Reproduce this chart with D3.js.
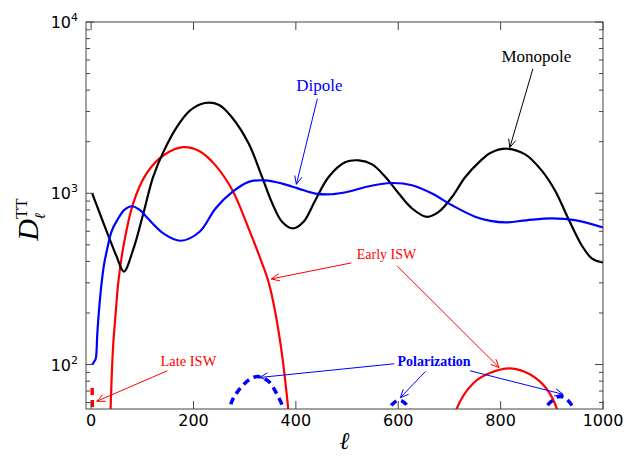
<!DOCTYPE html>
<html>
<head>
<meta charset="utf-8">
<script src="https://cdn.jsdelivr.net/npm/d3@7"></script>
<style>
  body { margin: 0; background: #fff; }
</style>
</head>
<body>
<div id="chart"></div>
<script>
// multipole l, D_l^TT
const monopole = [[2,1000],[17,762],[37,533],[50,426],[64,349],[82,467],[102,762],[121,1244],[141,1739],[167,2427],
  [193,3039],[222,3367],[250,3280],[275,2780],[308,1945],[334,1244],[354,871],[373,681],[394,623],[415,681],
  [438,911],[464,1244],[497,1520],[523,1556],[549,1474],[575,1244],[601,996],[627,815],[656,728],[679,778],
  [705,951],[731,1244],[760,1540],[780,1720],[812,1820],[848,1686],[880,1360],[906,1041],[932,713],[958,499],
  [978,417],[1000,394]];
const dipole = [[2,100],[6,104],[9,108],[12,150],[15,200],[20,290],[25,380],[31,467],[40,600],[51,697],[65,800],
  [79,840],[95,800],[108,728],[141,583],[175,528],[212,596],[243,815],[276,1018],[308,1165],[340,1190],
  [373,1139],[405,1065],[438,996],[470,987],[506,1027],[536,1088],[588,1148],[627,1113],[666,996],[705,851],
  [750,730],[780,690],[809,676],[850,695],[900,713],[945,697],[1000,631]];
const earlyISW = [[36,40],[38,55],[40,82],[43,128],[48,200],[53,300],[63,487],[82,871],[108,1302],[141,1662],
  [180,1859],[212,1760],[243,1455],[276,1041],[308,620],[334,390],[347,300],[360,200],[372,120],[381,72],
  [385,55],[388,40],[500,null],
  [705,40],[714,55],[747,78],[780,89.5],[818,95],[858,87.5],[890,72],[910,55],[918,40]];
const lateISW = [[2,73],[3,45]];
const polarization = [[268,50],[274,60],[287,70],[310,82],[326,85],[346,80],[362,68],[375,56],[378,50],[450,null],
  [575,50],[583,56],[592,60],[602,62],[612,60],[620,56],[626,50],[700,null],
  [882,50],[890,57],[902,62],[915,65],[925,64],[937,59],[946,53],[950,50]];

const xTicks = [0, 200, 400, 600, 800, 1000];
const yTicks = [100, 1000, 10000];
const yTickExp = ["2", "3", "4"];

// annotation labels: text position, then arrows [from, to], all in data units
const annotations = [
  {label: "Monopole", at: [870, 6300], arrows: [[[863, 5330], [818, 1850]]]},
  {label: "Dipole", at: [446, 4300], arrows: [[[442, 3566], [401, 1128]]]},
  {label: "Early ISW", at: [577, 442], arrows: [[[508, 392], [352, 316]], [[598, 376], [797, 96]]]},
  {label: "Late ISW", at: [190, 105], arrows: [[[149, 92], [11, 61]]]},
  {label: "Polarization", at: [670, 105], arrows: [[[592, 101], [329, 84]], [[653, 91], [604, 64]], [[740, 92], [922, 67]]]}
];

const annoStyle = {
  "Monopole": {color: "black", size: 17, weight: "normal"},
  "Dipole": {color: "blue", size: 17, weight: "normal"},
  "Early ISW": {color: "red", size: 14, weight: "normal"},
  "Late ISW": {color: "red", size: 14.5, weight: "normal"},
  "Polarization": {color: "blue", size: 14, weight: "bold"}
};

const W = 627, H = 457;
const margin = {top: 22, right: 24, bottom: 48, left: 86};

const svg = d3.select("#chart").append("svg")
  .attr("width", W)
  .attr("height", H);

const x = d3.scaleLinear().domain([-10, 1000]).range([margin.left, W - margin.right]);
const y = d3.scaleLog().domain([55, 10000]).range([H - margin.bottom, margin.top]);

const x0 = margin.left, x1 = W - margin.right, y0 = H - margin.bottom, y1 = margin.top;

svg.append("clipPath").attr("id", "plot")
  .append("rect")
  .attr("x", x0).attr("y", y1)
  .attr("width", x1 - x0).attr("height", y0 - y1);

const line = d3.line()
  .defined(d => d[1] != null)
  .x(d => x(d[0]))
  .y(d => y(d[1]))
  .curve(d3.curveCatmullRom.alpha(0.5));

const curves = svg.append("g").attr("clip-path", "url(#plot)").attr("fill", "none");

curves.append("path").datum(earlyISW).attr("d", line)
  .attr("stroke", "red").attr("stroke-width", 2.2);
curves.append("path").datum(monopole).attr("d", line)
  .attr("stroke", "black").attr("stroke-width", 2.2);
curves.append("path").datum(dipole).attr("d", line)
  .attr("stroke", "blue").attr("stroke-width", 2.2);
curves.append("path").datum(lateISW).attr("d", line)
  .attr("stroke", "red").attr("stroke-width", 3.5).attr("stroke-dasharray", "7,5");
curves.append("path").datum(polarization).attr("d", line)
  .attr("stroke", "blue").attr("stroke-width", 3.5).attr("stroke-dasharray", "7,5");

// frame
svg.append("rect")
  .attr("x", x0).attr("y", y1)
  .attr("width", x1 - x0).attr("height", y0 - y1)
  .attr("fill", "none").attr("stroke", "#444").attr("stroke-width", 1);

const ticks = svg.append("g").attr("stroke", "#444").attr("stroke-width", 1);

// x ticks, inward on bottom and top
xTicks.forEach(t => {
  ticks.append("line").attr("x1", x(t)).attr("x2", x(t)).attr("y1", y0).attr("y2", y0 - 8);
  ticks.append("line").attr("x1", x(t)).attr("x2", x(t)).attr("y1", y1).attr("y2", y1 + 8);
});

// y ticks, majors and log minors, inward on left and right
y.ticks().forEach(t => {
  const len = yTicks.includes(t) ? 8 : 4;
  ticks.append("line").attr("x1", x0).attr("x2", x0 + len).attr("y1", y(t)).attr("y2", y(t));
  ticks.append("line").attr("x1", x1).attr("x2", x1 - len).attr("y1", y(t)).attr("y2", y(t));
});

const labels = svg.append("g")
  .attr("font-family", "'DejaVu Sans', sans-serif")
  .attr("fill", "black");

xTicks.forEach(t => {
  labels.append("text")
    .attr("x", x(t)).attr("y", y0 + 17)
    .attr("text-anchor", "middle")
    .attr("font-size", 16)
    .text(t);
});

yTicks.forEach((t, i) => {
  const txt = labels.append("text")
    .attr("x", x0 - 8).attr("y", y(t) + 6)
    .attr("text-anchor", "end")
    .attr("font-size", 16);
  txt.append("tspan").text("10");
  txt.append("tspan").attr("dy", -7).attr("font-size", 11).text(yTickExp[i]);
});

// axis titles
svg.append("text")
  .attr("x", (x0 + x1) / 2).attr("y", H - 8)
  .attr("text-anchor", "middle")
  .attr("font-family", "'DejaVu Serif', serif")
  .attr("font-style", "italic")
  .attr("font-size", 24)
  .text("ℓ");

const ylab = svg.append("text")
  .attr("transform", `translate(38,${(y0 + y1) / 2 + 4}) rotate(-90)`)
  .attr("text-anchor", "middle")
  .attr("font-family", "'Liberation Serif', serif");
ylab.append("tspan").attr("font-style", "italic").attr("font-size", 30).text("D");
ylab.append("tspan").attr("font-size", 17).attr("dy", -11).text("TT");
ylab.append("tspan").attr("font-family", "'DejaVu Serif', serif").attr("font-style", "italic")
  .attr("font-size", 15).attr("dx", -21).attr("dy", 18).text("ℓ");
ylab.append("tspan").attr("font-size", 17).attr("dx", 4).attr("dy", -7).text(" ");

// annotations with open arrow heads
function arrow(g, p, q, color) {
  const ax = x(p[0]), ay = y(p[1]), bx = x(q[0]), by = y(q[1]);
  g.append("line")
    .attr("x1", ax).attr("y1", ay).attr("x2", bx).attr("y2", by)
    .attr("stroke", color).attr("stroke-width", 1);
  const a = Math.atan2(by - ay, bx - ax), L = 9, w = 0.42;
  g.append("path")
    .attr("d", `M${bx - L * Math.cos(a - w)},${by - L * Math.sin(a - w)}L${bx},${by}L${bx - L * Math.cos(a + w)},${by - L * Math.sin(a + w)}`)
    .attr("fill", "none").attr("stroke", color).attr("stroke-width", 1);
}

const anno = svg.append("g");
annotations.forEach(d => {
  const s = annoStyle[d.label];
  anno.append("text")
    .attr("x", x(d.at[0])).attr("y", y(d.at[1]))
    .attr("dy", "0.35em")
    .attr("text-anchor", "middle")
    .attr("font-family", "'Liberation Serif', serif")
    .attr("font-size", s.size)
    .attr("font-weight", s.weight)
    .attr("fill", s.color)
    .text(d.label);
  d.arrows.forEach(ar => arrow(anno, ar[0], ar[1], s.color));
});
</script>
</body>
</html>
